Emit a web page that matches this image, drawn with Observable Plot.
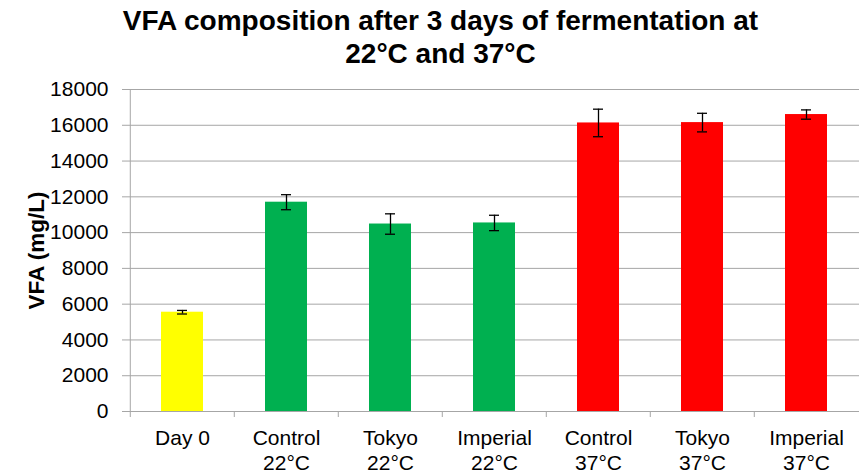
<!DOCTYPE html>
<html><head><meta charset="utf-8">
<script src="https://cdn.jsdelivr.net/npm/d3@7"></script>
<script src="https://cdn.jsdelivr.net/npm/@observablehq/plot@0.6"></script>
<style>
body{margin:0;background:#fff;font-family:"Liberation Sans",Arial,sans-serif;}
#title{width:859px;height:72px;box-sizing:border-box;padding-top:4px;padding-left:22px;text-align:center;font-weight:bold;font-size:28px;line-height:33px;color:#000;}
#chart svg g[aria-label="y-axis label"] text{font-weight:bold;font-size:22.5px;}
</style></head><body>
<div id="title">VFA composition after 3 days of fermentation at<br>22°C and 37°C</div>
<div id="chart"></div>
<script>
const categories = ["Day 0","Control\n22°C","Tokyo\n22°C","Imperial\n22°C","Control\n37°C","Tokyo\n37°C","Imperial\n37°C"];
const values = [5550, 11700, 10480, 10540, 16130, 16150, 16600];
const errors = [100, 420, 570, 430, 770, 520, 260];
const groups = ["Day 0","22°C","22°C","22°C","37°C","37°C","37°C"];
const groupNames = ["Day 0","22°C","37°C"];
const groupColors = ["#FFFF00","#00B050","#FF0000"];
const yTicks = [0,2000,4000,6000,8000,10000,12000,14000,16000,18000];

const W=859, H=404, mL=128, mR=0, mT=17, mB=65;
const step=(W-mL-mR)/categories.length;
const data = categories.map((c,i)=>({c, v: values[i], e: errors[i], g: groups[i]}));
const grid = "#a6a6a6";
const chart = Plot.plot({
  width:W, height:H, marginLeft:mL, marginRight:mR, marginTop:mT, marginBottom:mB,
  style:{fontFamily:'"Liberation Sans",Arial,sans-serif', fontSize:"21px", color:"#000", background:"#fff"},
  x:{domain:categories, paddingInner:0.6, paddingOuter:0.3, label:null},
  y:{domain:[0,18000], label:null},
  color:{domain:groupNames, range:groupColors},
  marks:[
    Plot.gridY(yTicks, {stroke:grid, strokeOpacity:1}),
    Plot.barY(data,{x:"c",y:"v",fill:"g"}),
    Plot.ruleX(data,{x:"c",y1:d=>d.v-d.e,y2:d=>d.v+d.e,stroke:"#000",strokeWidth:1.3}),
    Plot.tickY(data,{x:"c",y:d=>d.v-d.e,insetLeft:16,insetRight:16,stroke:"#000",strokeWidth:1.3}),
    Plot.tickY(data,{x:"c",y:d=>d.v+d.e,insetLeft:16,insetRight:16,stroke:"#000",strokeWidth:1.3}),
    Plot.ruleY([0],{stroke:grid}),
    Plot.ruleX([categories[0]],{x:d=>d,dx:-step/2,stroke:grid}),
    Plot.axisY({ticks:yTicks, tickFormat:d=>String(d), tickSize:6, tickPadding:14, stroke:grid, label:"VFA (mg/L)", labelAnchor:"center", labelOffset:100, labelArrow:false}),
    Plot.axisX({tickSize:0, tickPadding:15, label:null, lineHeight:1.22}),
    Plot.axisX({tickSize:6, tickFormat:()=>"", dx:-step/2, stroke:grid, label:null})
  ]
});
document.getElementById("chart").appendChild(chart);
</script>
</body></html>
